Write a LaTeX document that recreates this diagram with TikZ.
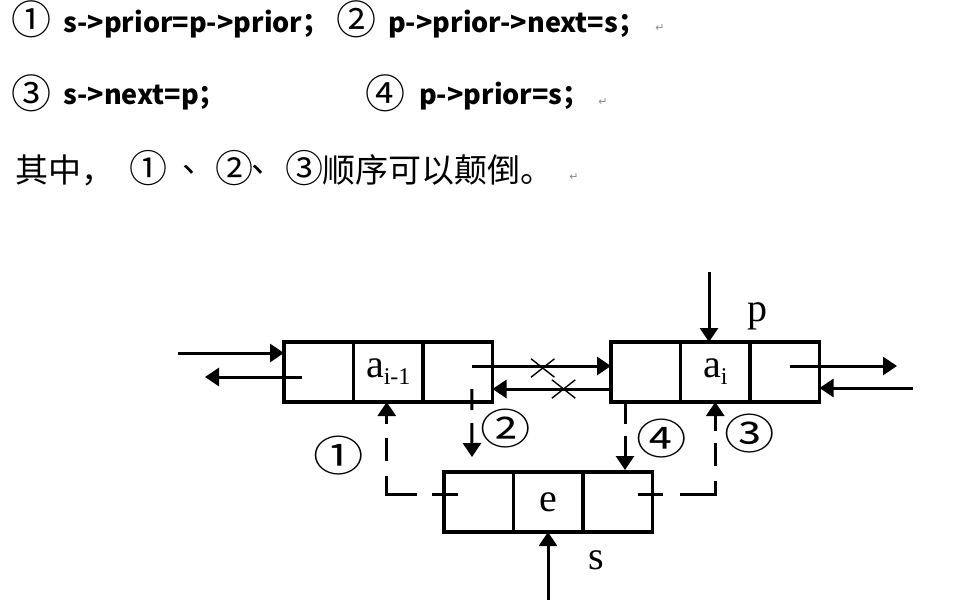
\documentclass[tikz,border=0pt]{standalone}
\usepackage{fontspec}
\setmainfont{Liberation Serif}
\newfontfamily\cjk{Noto Sans CJK SC}
\newfontfamily\symfont{DejaVu Sans}
\usetikzlibrary{arrows.meta,positioning,calc,shapes.misc}

\begin{document}
\begin{tikzpicture}[x=1pt, y=-1pt]
  \path[use as bounding box, fill=white] (0,0) rectangle (954,611);

  % styles
  \tikzstyle{code} = [anchor=base west, inner sep=0pt, font=\cjk\bfseries\fontsize{27}{27}\selectfont]
  \tikzstyle{num} = [inner sep=0pt, font=\cjk\fontsize{40}{40}\selectfont]
  \tikzstyle{han} = [anchor=west, inner sep=0pt, font=\cjk\fontsize{33}{33}\selectfont]
  \tikzstyle{ret} = [inner sep=0pt, text=black!45, font=\symfont\fontsize{11}{11}\selectfont]
  \tikzstyle{cell} = [rectangle, draw, line width=3.2pt, outer sep=0pt, inner sep=0pt, minimum width=69.5pt, minimum height=60pt, font=\fontsize{40}{40}\selectfont]
  \tikzstyle{ptr} = [line width=3pt, -{Triangle[length=14pt,width=18pt]}]
  \tikzstyle{cut} = [cross out, draw, line width=1.4pt, minimum width=22pt, minimum height=17pt, inner sep=0pt]
  \tikzstyle{tag} = [inner sep=0pt, xscale=1.2, font=\cjk\fontsize{42}{42}\selectfont]
  \tikzstyle{lbl} = [inner sep=0pt, font=\fontsize{40}{40}\selectfont]

  % statements
  \node[num] (n1) at (32,19) {①};
  \node[code] (t1) at (63,32) {s->prior=p->prior；};
  \node[num] (n2) at (356,19) {②};
  \node[code] (t2) at (388,32) {p->prior->next=s；};
  \node[ret] (r1) at (660,28) {↵};
  \node[num] (n3) at (32,93) {③};
  \node[code] (t3) at (63,104) {s->next=p；};
  \node[num] (n4) at (385,93) {④};
  \node[code] (t4) at (419,104) {p->prior=s；};
  \node[ret] (r2) at (603,102) {↵};

  \node[han] (h1) at (15,170) {其中，};
  \node[num, font=\cjk\fontsize{38}{38}\selectfont] (h2) at (148,168) {①};
  \node[han] (h3) at (182,170) {、};
  \node[num, font=\cjk\fontsize{38}{38}\selectfont] (h4) at (234,168) {②};
  \node[han] (h5) at (251,170) {、};
  \node[num, font=\cjk\fontsize{38}{38}\selectfont] (h6) at (304,168) {③};
  \node[han] (h7) at (322,170) {顺序可以颠倒。};
  \node[ret] (r3) at (574,177) {↵};

  % list nodes
  \node[cell] (prevL) at (318.75,372) {};
  \node[cell, right=0pt of prevL] (prevD) {a\raisebox{-7pt}{\fontsize{24}{24}\selectfont i-1}};
  \node[cell, right=0pt of prevD] (prevR) {};

  \node[cell] (curL) at (645.75,372) {};
  \node[cell, right=0pt of curL] (curD) {a\raisebox{-7pt}{\fontsize{24}{24}\selectfont i}};
  \node[cell, right=0pt of curD] (curR) {};

  \node[cell] (eL) at (478.75,502) {};
  \node[cell, right=0pt of eL] (eD) {e};
  \node[cell, right=0pt of eD] (eR) {};

  % old links
  \coordinate (inA) at (178,353);
  \coordinate (outA) at (205,377);
  \draw[ptr] (inA) -- (inA -| prevL.west);
  \draw[ptr] ($(prevL.west)+(18,5)$) -- (outA);
  \draw[ptr] ($(prevR.center)+(14,-6)$) -- ($(curL.west)+(0,-6)$) node[cut, pos=0.51, yshift=-2pt] (x1) {};
  \draw[ptr] ($(curL.west)+(0,17)$) -- ($(prevR.east)+(0,17)$) node[cut, pos=0.4] (x2) {};
  \coordinate (outB) at (897,366);
  \coordinate (inB) at (913,388);
  \draw[ptr] ($(curR.center)+(5,-6)$) -- (outB);
  \draw[ptr] (inB) -- (inB -| curR.east);

  % pointers p and s
  \coordinate (pp) at (709,272);
  \coordinate (ss) at (548,600);
  \draw[ptr] (pp) -- (pp |- curD.north);
  \draw[ptr] (ss) -- (ss |- eD.south);
  \node[lbl] (plab) at (757,316) {p};
  \node[lbl] (slab) at (596,560) {s};

  % new links
  \coordinate (two) at (472,457);
  \coordinate (four) at (625,470);
  \draw[ptr, dash pattern=on 26pt off 15pt on 48pt off 15pt on 23pt off 14pt on 30pt]
    ($(eL.center)+(-21,-8)$) -| ($(prevD.south)+(-1.5,0)$);
  \draw[ptr, dash pattern=on 21pt off 13pt on 40pt] ($(prevR.center)+(14,17)$) -- (two);
  \draw[ptr, dash pattern=on 25pt off 17pt on 49pt off 15pt on 23pt off 12pt on 30pt]
    ($(eR.center)+(20,-8)$) -| (curD.south);
  \draw[ptr, dash pattern=on 22pt off 12pt on 40pt] (four |- curL.south) -- (four);

  \node[tag] (c1) at (339,456) {①};
  \node[tag] (c2) at (506,429) {②};
  \node[tag] (c3) at (750,434) {③};
  \node[tag] (c4) at (662,439) {④};
\end{tikzpicture}
\end{document}
